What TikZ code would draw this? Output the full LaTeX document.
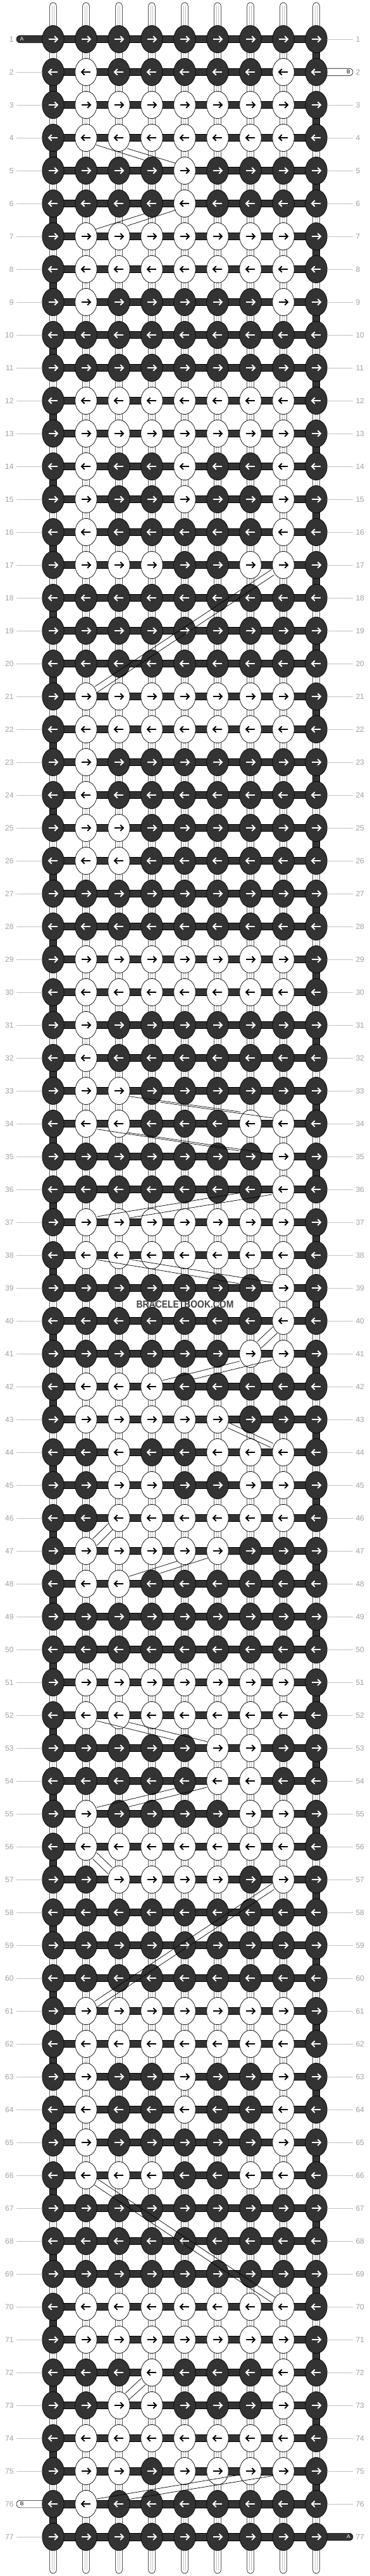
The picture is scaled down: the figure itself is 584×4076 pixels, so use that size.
\documentclass[tikz,border=0pt]{standalone}
\usepackage{fontspec}
\setmainfont{Liberation Sans}
\usetikzlibrary{shapes.geometric}
\definecolor{kd}{HTML}{333333}
\definecolor{lblc}{HTML}{A0A0A0}
\definecolor{lnc}{HTML}{C0C0C0}
\definecolor{sgc}{HTML}{C4C4C4}
\definecolor{wmc}{HTML}{444444}
\tikzset{
  knotbase/.style={ellipse, draw=black, line width=0.7pt, minimum width=34.5pt, minimum height=43.3pt, inner sep=0pt, outer sep=0pt},
  knotD/.style={knotbase, fill=kd},
  knotW/.style={knotbase, fill=white},
  vstring/.style={draw=black, fill=white, line width=0.6pt, rounded corners=5.3pt},
  vcore/.style={sgc, line width=0.7pt},
  edgeconn/.style={draw=black, fill=kd, line width=0.6pt},
  hbar/.style={draw=black, fill=kd, line width=0.6pt},
  tabD/.style={draw=black, fill=kd, line width=0.6pt, rounded corners=5.7pt},
  tabW/.style={draw=black, fill=white, line width=0.6pt, rounded corners=5.7pt},
  arrowline/.style={line width=1.9pt},
  rowlbl/.style={text=lblc, font=\fontsize{12}{12}\selectfont, inner xsep=4.5pt, inner ysep=0pt, outer sep=0pt},
  lblline/.style={lnc, line width=0.8pt},
  tabletter/.style={font=\fontsize{8.5}{8.5}\selectfont, inner sep=0pt},
  wmline/.style={black, line width=0.7pt},
  wmtext/.style={text=wmc, font=\bfseries\fontsize{16.3}{16.3}\selectfont, xscale=0.853, inner sep=0pt},
}
\begin{document}
\begin{tikzpicture}[x=1pt,y=-1pt]
\useasboundingbox (0,0) rectangle (584,4076);
% vertical strings
\foreach \c in {1,...,9}{
  \pgfmathsetmacro\xx{84+52*(\c-1)}
  \draw[vstring] (\xx-5.35,4) rectangle (\xx+5.35,4072);
  \draw[vcore] (\xx-1.3,9) -- (\xx-1.3,4067) (\xx+1.3,9) -- (\xx+1.3,4067);
}
% dark edge turns of string A
\foreach \r in {2,4,...,76}{
  \pgfmathsetmacro\ya{62+52*(\r-1)}
  \pgfmathsetmacro\yb{\ya+52}
  \draw[edgeconn] (78.5,\ya) rectangle (89.5,\yb);
}
\foreach \r in {1,3,...,75}{
  \pgfmathsetmacro\ya{62+52*(\r-1)}
  \pgfmathsetmacro\yb{\ya+52}
  \draw[edgeconn] (494.5,\ya) rectangle (505.5,\yb);
}
% horizontal bars
\foreach \r in {1,...,77}{
  \pgfmathsetmacro\yy{62+52*(\r-1)}
  \draw[hbar] (84,\yy-5.75) rectangle (500,\yy+5.75);
}
% string ends
\draw[tabD] (26,56.25) rectangle (90,67.75);
\node[tabletter, text=white] (tA1) at (34.7,62) {A};
\draw[tabW] (494,108.25) rectangle (558,119.75);
\node[tabletter] (tB1) at (551,114) {B};
\draw[tabW] (26,3956.25) rectangle (90,3967.75);
\node[tabletter] (tB2) at (34.7,3962) {B};
\draw[tabD] (494,4008.25) rectangle (558,4019.75);
\node[tabletter, text=white] (tA2) at (551,4014) {A};
% knots
\foreach \p [count=\r] in {
{0,0,0,0,0,0,0,0,0},
{0,1,0,0,0,0,0,1,0},
{0,1,1,1,1,1,1,1,0},
{0,1,1,1,1,1,1,1,0},
{0,0,0,0,1,0,0,0,0},
{0,0,0,0,1,0,0,0,0},
{0,1,1,1,1,1,1,1,0},
{0,1,1,1,1,1,1,1,0},
{0,1,0,0,0,0,0,1,0},
{0,0,0,0,0,0,0,0,0},
{0,0,0,0,0,0,0,0,0},
{0,1,1,1,1,1,1,1,0},
{0,1,1,1,1,1,1,1,0},
{0,1,0,0,1,0,0,1,0},
{0,1,0,0,1,0,0,1,0},
{0,1,0,0,0,0,0,1,0},
{0,1,1,1,0,0,1,1,0},
{0,0,0,0,0,0,0,0,0},
{0,0,0,0,0,0,0,0,0},
{0,0,0,0,0,0,0,0,0},
{0,1,1,1,1,1,1,1,0},
{0,1,1,1,1,1,1,1,0},
{0,1,0,0,0,0,0,0,0},
{0,1,0,0,0,0,0,0,0},
{0,1,1,0,0,0,0,0,0},
{0,1,1,0,0,0,0,0,0},
{0,0,0,0,0,0,0,0,0},
{0,0,0,0,0,0,0,0,0},
{0,1,1,1,1,1,1,1,0},
{0,1,1,1,1,1,1,1,0},
{0,1,0,0,0,0,0,0,0},
{0,1,0,0,0,0,0,0,0},
{0,1,1,0,0,0,0,0,0},
{0,1,1,0,0,0,1,1,0},
{0,0,0,0,0,0,0,1,0},
{0,0,0,0,0,0,0,1,0},
{0,1,1,1,1,1,1,1,0},
{0,1,1,1,1,1,1,1,0},
{0,0,0,0,0,0,0,1,0},
{0,0,0,0,0,0,0,1,0},
{0,0,0,0,0,0,1,1,0},
{0,1,1,1,0,0,0,0,0},
{0,1,1,1,1,1,0,0,0},
{0,0,1,0,0,1,1,1,0},
{0,0,1,1,0,0,1,1,0},
{0,0,1,1,1,1,1,1,0},
{0,1,1,1,1,1,0,0,0},
{0,1,1,0,0,0,0,0,0},
{0,0,0,0,0,0,0,0,0},
{0,0,0,0,0,0,0,0,0},
{0,1,1,1,1,1,1,1,0},
{0,1,1,1,1,1,1,1,0},
{0,0,0,0,0,1,1,0,0},
{0,0,0,0,0,1,1,0,0},
{0,1,0,0,0,0,1,1,0},
{0,1,1,1,1,1,1,1,0},
{0,0,1,1,1,1,0,1,0},
{0,0,0,0,0,0,0,0,0},
{0,0,0,0,0,0,0,0,0},
{0,0,0,0,0,0,0,0,0},
{0,1,1,1,1,1,1,1,0},
{0,1,1,1,1,1,1,1,0},
{0,1,0,0,1,0,0,1,0},
{0,1,0,0,1,0,0,1,0},
{0,1,0,0,0,0,0,1,0},
{0,1,1,1,0,0,1,1,0},
{0,0,0,0,0,0,0,0,0},
{0,0,0,0,0,0,0,0,0},
{0,0,0,0,0,0,0,0,0},
{0,1,1,1,1,1,1,1,0},
{0,1,1,1,1,1,1,1,0},
{0,0,0,1,0,0,0,1,0},
{0,0,1,1,0,0,0,1,0},
{0,1,1,1,1,1,1,1,0},
{0,1,1,0,1,1,1,1,0},
{0,1,0,0,0,0,0,0,0},
{0,0,0,0,0,0,0,0,0}}{
  \pgfmathsetmacro\yy{62+52*(\r-1)}
  \foreach \v [count=\c] in \p {
    \pgfmathsetmacro\xx{84+52*(\c-1)}
    \ifnum\v=1\relax
      \node[knotW] (k-\c-\r) at (\xx,\yy) {};
      \def\ac{black}
    \else
      \node[knotD] (k-\c-\r) at (\xx,\yy) {};
      \def\ac{white}
    \fi
    \ifodd\r\relax \def\dd{1}\else \def\dd{-1}\fi
    \begin{scope}[shift={(k-\c-\r.center)}, xscale=\dd]
      \draw[arrowline, \ac] (-7,0) -- (6,0);
      \draw[arrowline, \ac, line join=miter] (2.3,-4.8) -- (7,0) -- (2.3,4.8);
    \end{scope}
  }
}
% row numbers
\foreach \r in {1,...,77}{
  \pgfmathsetmacro\yy{62+52*(\r-1)}
  \node[rowlbl, anchor=east] (ll-\r) at (26,\yy) {\r};
  \node[rowlbl, anchor=west] (lr-\r) at (558,\yy) {\r};
}
\foreach \r in {2,3,...,75,77} \draw[lblline] (ll-\r) -- (k-1-\r);
\foreach \r in {1,3,4,...,76} \draw[lblline] (k-9-\r) -- (lr-\r);
% watermark lines
\foreach \a/\b/\cc/\d in {
152.1/229.3/228.1/253.3, 201.3/235/277.7/258.3,
151/362.7/228.1/338.3, 201.3/357.3/277.7/332.3,
430/900.7/150/1086.3, 433.3/909.7/153.3/1095.7,
430/2980.7/150/3166.3, 433.3/2989.7/153.3/3175.7,
204/1734.7/380/1759.3, 253.3/1744/431.7/1769,
153.3/1786.7/378.3/1821, 201.7/1792/430.3/1826,
153.3/1925/378.3/1887.7, 205/1927/430/1890,
153.3/1993.3/378.3/2031, 205/1992.7/430.7/2029.3,
431.7/2099.3/406.7/2122.7, 438.3/2109.3/412.7/2133.3,
256.7/2184.3/379.3/2153.7, 306.7/2182/430.7/2151.7,
361.7/2251/431.7/2283.7, 360/2259.3/428.3/2290.3,
146.7/2434.7/171.7/2410.3, 153.3/2445.3/178.3/2420.3,
204/2494.3/280/2470.3, 253.3/2489.3/328.3/2465.3,
153.3/2723/275/2753, 204/2725.3/327.3/2755.7,
153.3/2859.7/277.3/2829.7, 204/2858.7/327.3/2828,
152.7/2931.3/177.3/2954.7, 146.7/2941.3/170.7/2964.7,
153.3/3447.3/435/3635, 149.3/3457.3/430/3643.3,
198.3/3786.7/223.3/3763.3, 204/3796.7/230/3773.3,
152.8/3954/378.3/3916, 201.3/3955/432.3/3917.3}
  \draw[wmline] (\a,\b) -- (\cc,\d);
\node[wmtext] (wm) at (292.5,2063.5) {BRACELETBOOK.COM};
\end{tikzpicture}
\end{document}
